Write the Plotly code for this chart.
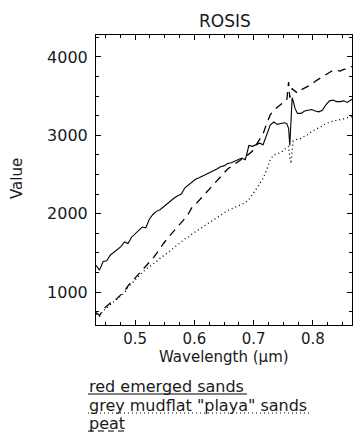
import plotly.graph_objects as go

# ---- data ----
wavelength = [0.434, 0.440, 0.446, 0.452, 0.458, 0.464, 0.470, 0.476, 0.482, 0.488,
              0.494, 0.500, 0.506, 0.512, 0.518, 0.524, 0.530, 0.536, 0.542, 0.548,
              0.554, 0.560, 0.566, 0.572, 0.578, 0.584, 0.590, 0.596, 0.602, 0.608,
              0.614, 0.620, 0.626, 0.632, 0.638, 0.644, 0.650, 0.656, 0.662, 0.668,
              0.674, 0.680, 0.686, 0.692, 0.698, 0.704, 0.710, 0.716, 0.722, 0.728,
              0.734, 0.740, 0.746, 0.752, 0.756, 0.759, 0.761, 0.763, 0.765, 0.767,
              0.770, 0.774, 0.780, 0.786, 0.792, 0.798, 0.804, 0.810, 0.816, 0.822,
              0.828, 0.834, 0.840, 0.846, 0.852, 0.858, 0.864, 0.866]

red_emerged_sands = [1340, 1280, 1390, 1400, 1470, 1510, 1540, 1580, 1640, 1620,
                     1700, 1740, 1780, 1830, 1820, 1930, 1990, 2030, 2050, 2090,
                     2120, 2160, 2200, 2230, 2250, 2330, 2370, 2400, 2440, 2460,
                     2480, 2500, 2530, 2550, 2570, 2600, 2610, 2640, 2650, 2670,
                     2690, 2710, 2690, 2870, 2860, 2880, 2900, 2880, 3000, 3130,
                     3170, 3140, 3150, 3160, 3150, 3090, 2870, 3300, 3480, 3430,
                     3340, 3280, 3280, 3310, 3320, 3330, 3310, 3300, 3320, 3390,
                     3440, 3450, 3430, 3430, 3440, 3420, 3450, 3460]

grey_mudflat_playa_sands = [720, 690, 760, 800, 840, 880, 920, 950, 990, 1060,
                            1110, 1150, 1210, 1250, 1290, 1320, 1360, 1390, 1430, 1460,
                            1500, 1530, 1570, 1600, 1640, 1680, 1700, 1740, 1770, 1800,
                            1830, 1860, 1890, 1920, 1950, 1980, 2020, 2040, 2060, 2080,
                            2100, 2120, 2140, 2180, 2240, 2310, 2380, 2450, 2560, 2690,
                            2750, 2770, 2780, 2820, 2840, 2860, 2720, 2640, 2800, 2930,
                            2940, 2950, 2960, 2990, 3010, 3050, 3070, 3100, 3120, 3150,
                            3170, 3180, 3190, 3200, 3210, 3220, 3230, 3240]

peat = [740, 700, 780, 820, 860, 880, 920, 960, 1010, 1080,
        1130, 1180, 1230, 1270, 1330, 1380, 1430, 1490, 1560, 1620,
        1680, 1730, 1790, 1840, 1890, 1940, 2000, 2080, 2120, 2170,
        2220, 2270, 2320, 2380, 2430, 2480, 2530, 2570, 2600, 2630,
        2660, 2690, 2720, 2760, 2800, 2870, 2950, 3020, 3150, 3260,
        3320, 3360, 3390, 3430, 3450, 3680, 3480, 3540, 3600, 3580,
        3560, 3540, 3580, 3600, 3620, 3650, 3690, 3720, 3750, 3780,
        3800, 3830, 3830, 3820, 3840, 3850, 3870, 3880]

series_names = ["red emerged sands", 'grey mudflat "playa" sands', "peat"]
series_values = [red_emerged_sands, grey_mudflat_playa_sands, peat]
series_dash = ["solid", "1px,3px", "8px,6px"]

x_tickvals = [0.5, 0.6, 0.7, 0.8]
x_ticktext = ["0.5", "0.6", "0.7", "0.8"]
y_tickvals = [1000, 2000, 3000, 4000]
y_ticktext = ["1000", "2000", "3000", "4000"]

# ---- layout geometry (pixels) ----
W, H = 354, 435
L, R, T, B = 96, 2, 35, 110
PW, PH = W - L - R, H - T - B
FONT = "DejaVu Sans"
INK = "#1a1a1a"


def px(xp):
    return (xp - L) / PW


def py(yp):
    return (H - B - yp) / PH


fig = go.Figure()
for name, vals, dash in zip(series_names, series_values, series_dash):
    fig.add_trace(go.Scatter(x=wavelength, y=vals, mode="lines", name=name,
                             line=dict(color="black", width=1.1 if dash == "solid" else 1.3,
                                       dash=dash)))

axis_common = dict(showgrid=False, zeroline=False, showline=True, linecolor="black",
                   linewidth=1, mirror="ticks", ticks="inside", ticklen=5,
                   tickcolor="black", tickwidth=1)

fig.update_xaxes(range=[0.434, 0.866], tickvals=x_tickvals, ticktext=x_ticktext,
                 minor=dict(dtick=0.025, tick0=0.5, ticks="inside", ticklen=3,
                            tickcolor="black", tickwidth=1),
                 tickfont=dict(family=FONT, size=15, color=INK),
                 ticklabelstandoff=0, **axis_common)
fig.update_yaxes(range=[580, 4280], tickvals=y_tickvals, ticktext=y_ticktext,
                 minor=dict(dtick=250, tick0=0, ticks="inside", ticklen=3,
                            tickcolor="black", tickwidth=1),
                 tickfont=dict(family=FONT, size=16, color=INK),
                 ticklabelstandoff=4, **axis_common)

annotations = [
    dict(text="ROSIS", x=px(225), y=py(21), font=dict(family=FONT, size=17, color=INK)),
    dict(text="Value", x=px(17), y=py(179), textangle=-90,
         font=dict(family=FONT, size=15, color=INK)),
    dict(text="Wavelength (\u03bcm)", x=px(224), y=py(357),
         font=dict(family=FONT, size=15, color=INK)),
]
legend_rows = [(386, 247), (405, 310), (423, 124)]
legend_underline_y = [394, 413, 431]
shapes = []
for (row_y, x_end), uy, name, dash in zip(legend_rows, legend_underline_y,
                                          series_names, series_dash):
    annotations.append(dict(text=name, x=px(88), y=py(row_y), xanchor="left",
                            borderpad=0,
                            font=dict(family=FONT, size=16, color=INK)))
    shapes.append(dict(type="line", xref="paper", yref="paper",
                       x0=px(88), x1=px(x_end), y0=py(uy), y1=py(uy),
                       line=dict(color="black", width=1,
                                 dash=dash if dash != "8px,6px" else "6px,4px")))

for a in annotations:
    a.update(xref="paper", yref="paper", showarrow=False)
    a.setdefault("xanchor", "center")
    a.setdefault("yanchor", "middle")

fig.update_layout(width=W, height=H, margin=dict(l=L, r=R, t=T, b=B, pad=0),
                  paper_bgcolor="white", plot_bgcolor="white", showlegend=False,
                  annotations=annotations, shapes=shapes,
                  font=dict(family=FONT, color=INK))

fig.write_html("out.html", config={"displayModeBar": False},
               post_script="document.body.style.margin='0';"
                           "document.body.style.overflow='hidden';")
